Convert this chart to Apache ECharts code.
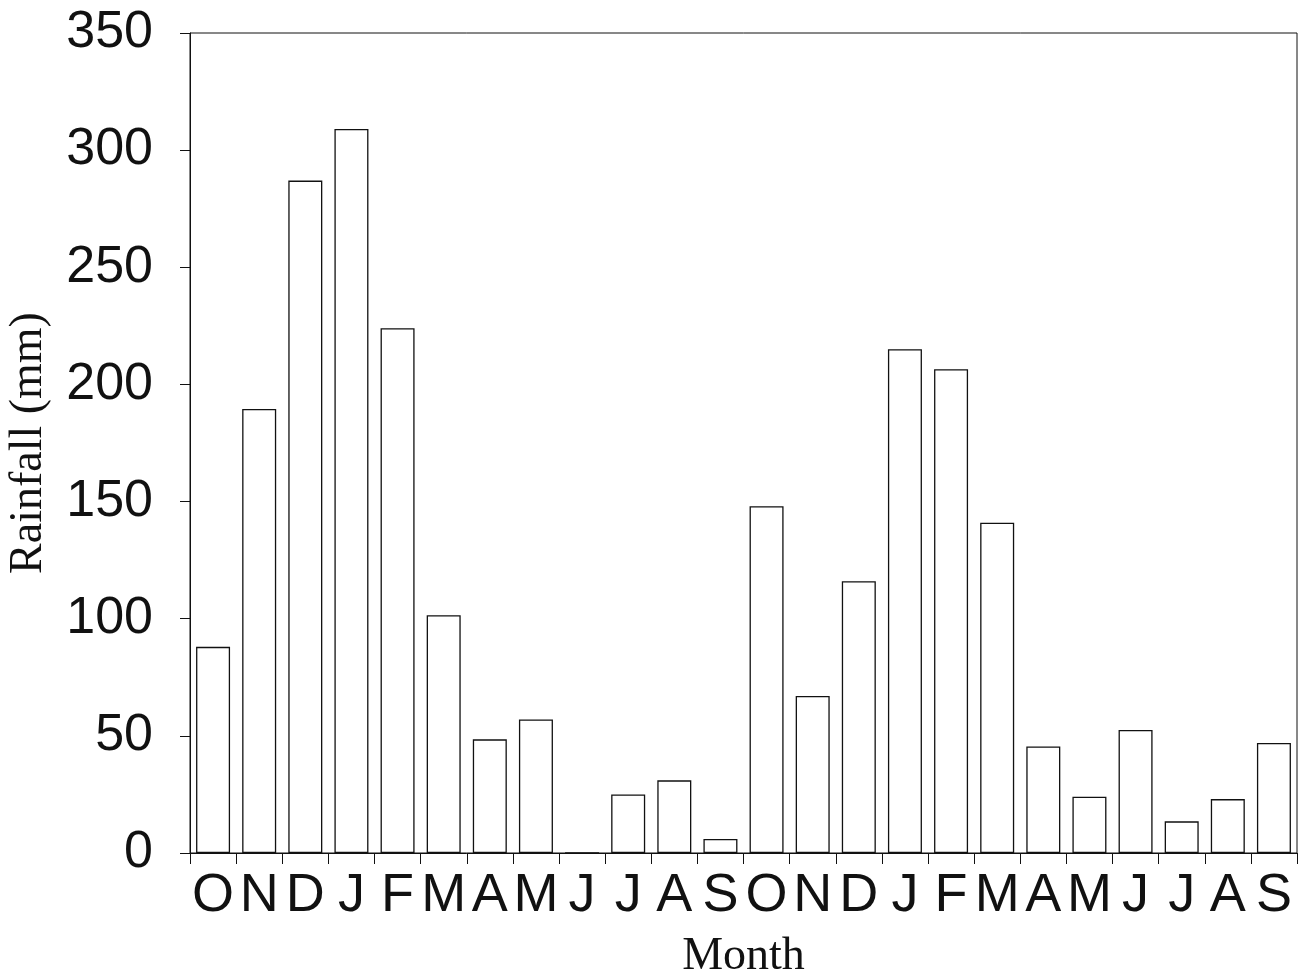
<!DOCTYPE html>
<html>
<head>
<meta charset="utf-8">
<script src="https://cdn.jsdelivr.net/npm/echarts@6/dist/echarts.min.js"></script>
<style>
html,body{margin:0;padding:0;background:#fff;}
#chart{width:1311px;height:979px;}
</style>
</head>
<body>
<div id="chart"></div>
<script>
const months = ['O','N','D','J','F','M','A','M','J','J','A','S','O','N','D','J','F','M','A','M','J','J','A','S'];
const rainfall = [88, 189.5, 287, 309, 224, 101.5, 48.5, 57, 0, 25, 31, 6, 148, 67, 116, 215, 206.5, 141, 45.5, 24, 52.5, 13.5, 23, 47];
const yTicks = [0, 50, 100, 150, 200, 250, 300, 350];

const chart = echarts.init(document.getElementById('chart'), null, {renderer: 'canvas'});
chart.setOption({
  animation: false,
  backgroundColor: '#ffffff',
  grid: {left: 190, top: 33, right: 14, bottom: 126, containLabel: false, outerBoundsMode: 'none', show: true, borderColor: '#111', borderWidth: 1, backgroundColor: 'transparent'},
  xAxis: {
    type: 'category',
    data: months,
    boundaryGap: true,
    name: 'Month',
    nameLocation: 'middle',
    nameGap: 81,
    nameTextStyle: {fontFamily: '"Liberation Serif", "Times New Roman", serif', fontSize: 46, color: '#111'},
    axisLine: {show: true, lineStyle: {color: '#111', width: 1}},
    axisTick: {show: true, length: 11, inside: false, lineStyle: {color: '#111', width: 1}},
    axisLabel: {fontFamily: '"Liberation Sans", Arial, sans-serif', fontSize: 54, color: '#111', margin: 16, interval: 0},
    splitLine: {show: false}
  },
  yAxis: {
    type: 'value',
    min: yTicks[0],
    max: yTicks[yTicks.length - 1],
    interval: 50,
    name: 'Rainfall (mm)',
    nameLocation: 'middle',
    nameGap: 138,
    nameRotate: 90,
    nameTextStyle: {fontFamily: '"Liberation Serif", "Times New Roman", serif', fontSize: 46, color: '#111'},
    axisLine: {show: true, lineStyle: {color: '#111', width: 1}},
    axisTick: {show: true, length: 10, inside: false, lineStyle: {color: '#111', width: 1}},
    axisLabel: {fontFamily: '"Liberation Sans", Arial, sans-serif', fontSize: 52, color: '#111', margin: 37},
    splitLine: {show: false}
  },
  series: [{
    type: 'bar',
    data: rainfall,
    barWidth: 34,
    itemStyle: {color: '#ffffff', borderColor: '#111', borderWidth: 1.3}
  }]
});
</script>
</body>
</html>
